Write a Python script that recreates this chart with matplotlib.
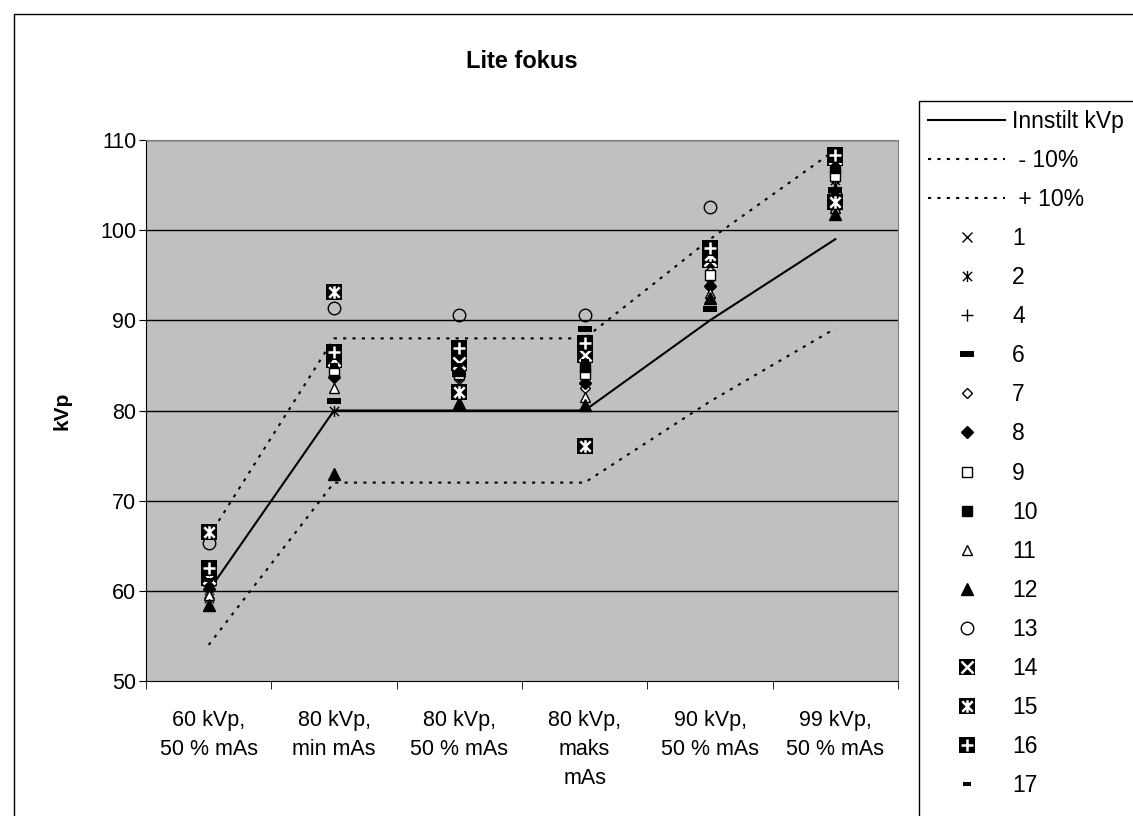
import matplotlib
matplotlib.use("Agg")
import matplotlib.pyplot as plt
from matplotlib.path import Path
from matplotlib.patches import Rectangle
import numpy as np

plt.rcParams['font.family'] = ['Liberation Sans', 'DejaVu Sans']

categories = ["60 kVp,\n50 % mAs", "80 kVp,\nmin mAs", "80 kVp,\n50 % mAs",
              "80 kVp,\nmaks\nmAs", "90 kVp,\n50 % mAs", "99 kVp,\n50 % mAs"]

innstilt = [60, 80, 80, 80, 90, 99]
minus10 = [54, 72, 72, 72, 81, 89.1]
pluss10 = [66, 88, 88, 88, 99, 108.9]

# measured kVp per instrument
m1 = [59.8, 84.0, 84.0, 83.7, 94.5, 105.0]
m2 = [59.2, 80.0, 83.0, 84.5, 94.0, 105.6]
m4 = [60.5, 85.0, 85.0, 86.0, 96.5, 104.0]
m6 = [61.0, 81.1, 84.0, 89.0, 91.3, 104.5]
m7 = [60.8, 84.5, 83.5, 82.5, 95.5, 103.5]
m8 = [60.2, 83.7, 83.8, 83.0, 93.8, 102.5]
m9 = [61.5, 84.5, 84.0, 84.0, 95.0, 106.0]
m10 = [62.0, 85.3, 84.4, 84.8, 97.0, 106.9]
m11 = [59.5, 82.5, 82.0, 81.5, 93.0, 102.5]
m12 = [58.4, 73.0, 80.8, 80.6, 92.5, 101.8]
m13 = [65.3, 91.4, 90.6, 90.6, 102.6, 104.0]
m14 = [61.4, 85.6, 85.3, 86.1, 96.7, 108.0]
m15 = [66.5, 93.1, 82.1, 76.1, 97.2, 103.1]
m16 = [62.5, 86.5, 86.9, 87.5, 98.0, 108.3]
m17 = [61.2, 85.0, 85.0, 85.5, 92.0, 104.0]

labels = ["1", "2", "4", "6", "7", "8", "9", "10", "11", "12", "13", "14", "15", "16", "17"]
series = [m1, m2, m4, m6, m7, m8, m9, m10, m11, m12, m13, m14, m15, m16, m17]

# custom marker shapes
star = Path([(-1, -1), (1, 1), (-1, 1), (1, -1), (0, -1.2), (0, 1.2)],
            [Path.MOVETO, Path.LINETO, Path.MOVETO, Path.LINETO, Path.MOVETO, Path.LINETO])
bar = [(-1, -0.4), (1, -0.4), (1, 0.4), (-1, 0.4), (-1, -0.4)]

styles = {
    "1": [dict(marker='x', ms=7.5, mew=1.0, color='black')],
    "2": [dict(marker=star, ms=8, mew=1.0, color='black')],
    "4": [dict(marker='+', ms=8.5, mew=1.0, color='black')],
    "6": [dict(marker=bar, ms=10, mew=0, color='black')],
    "7": [dict(marker='D', ms=5.5, mew=1.0, mfc='white', mec='black')],
    "8": [dict(marker='D', ms=6.5, mew=1.0, mfc='black', mec='black')],
    "9": [dict(marker='s', ms=6.5, mew=1.0, mfc='white', mec='black')],
    "10": [dict(marker='s', ms=7, mew=1.0, mfc='black', mec='black')],
    "11": [dict(marker='^', ms=7.5, mew=1.0, mfc='white', mec='black')],
    "12": [dict(marker='^', ms=8, mew=1.0, mfc='black', mec='black')],
    "13": [dict(marker='o', ms=9, mew=1.0, mfc='none', mec='black')],
    "14": [dict(marker='s', ms=12, mew=0, mfc='black'),
           dict(marker='x', ms=8, mew=1.8, color='white')],
    "15": [dict(marker='s', ms=12, mew=0, mfc='black'),
           dict(marker=star, ms=9, mew=1.8, color='white')],
    "16": [dict(marker='s', ms=12, mew=0, mfc='black'),
           dict(marker='+', ms=9, mew=1.8, color='white')],
    "17": [dict(marker=bar, ms=6, mew=0, color='black')],
}

W, H = 1133, 816
fig = plt.figure(figsize=(W / 100, H / 100), dpi=100)
# chart frame and legend box, both running off the page
fig.patches.append(Rectangle((14 / W, -0.1), 1.2, 1 - 14 / H + 0.1, transform=fig.transFigure,
                             fill=False, ec='black', lw=1.0))
fig.patches.append(Rectangle((919 / W, -0.1), 0.5, 1 - 101 / H + 0.1, transform=fig.transFigure,
                             fill=True, fc='white', ec='black', lw=1.0))

ax = fig.add_axes([146 / W, 1 - 681 / H, 752 / W, 541 / H])
ax.set_facecolor('#c0c0c0')
x = np.arange(len(categories)) + 0.5

ax.set_xlim(0, 6)
ax.set_ylim(50, 110)
ax.set_yticks(range(50, 111, 10))
for yv in range(60, 111, 10):
    ax.axhline(yv, color='black', lw=1.0, zorder=1)

line_set, = ax.plot(x, innstilt, color='black', lw=1.5, zorder=2)
line_lo, = ax.plot(x, minus10, color='black', lw=1.5, ls=(0, (1.5, 3)), zorder=2)
line_hi, = ax.plot(x, pluss10, color='black', lw=1.5, ls=(0, (1.5, 3)), zorder=2)

handles = [line_set, line_lo, line_hi]
z = 3
for lab, vals in zip(labels, series):
    parts = []
    for st in styles[lab]:
        h, = ax.plot(x, vals, ls='none', zorder=z, clip_on=False, **st)
        parts.append(h)
        z += 0.1
    handles.append(tuple(parts) if len(parts) > 1 else parts[0])

ax.set_xticks(x)
ax.set_xticklabels(categories, fontsize=15.5, linespacing=1.5)
ax.set_xticks(np.arange(0, 7), minor=True)
ax.tick_params(axis='x', which='major', length=0, pad=21)
ax.tick_params(axis='x', which='minor', length=6, direction='out')
ax.tick_params(axis='y', length=5, direction='out', labelsize=15.5, pad=2)

for side in ['top', 'right']:
    ax.spines[side].set_color('#808080')
for side in ['left', 'bottom']:
    ax.spines[side].set_color('black')

fig.text(522 / W, 1 - 61 / H, "Lite fokus", fontsize=17, fontweight='bold', ha='center', va='center')
fig.text(62 / W, 1 - 411 / H, "kVp", fontsize=15, fontweight='bold', rotation=90, ha='center', va='center')

leg_labels = ["Innstilt kVp", " - 10%", " + 10%"] + labels
leg = fig.legend(handles, leg_labels, loc='upper left', bbox_to_anchor=(919 / W, 1 - 101 / H),
                 fontsize=16.5, frameon=False, handlelength=3.36, handletextpad=0.3,
                 labelspacing=0.7, borderpad=0.4, borderaxespad=0)

fig.savefig("out.png", dpi=100)
